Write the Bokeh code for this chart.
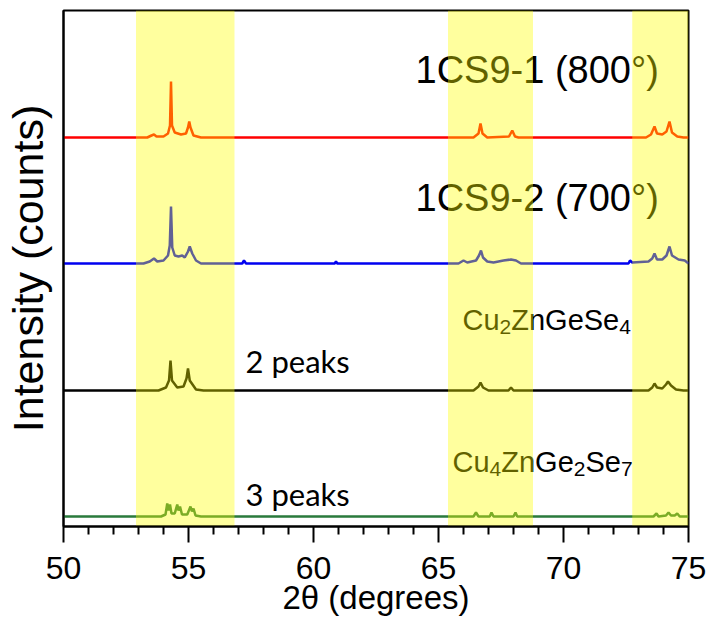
import numpy as np
from bokeh.plotting import figure
from bokeh.models import Range1d, FixedTicker, ColumnDataSource
from bokeh.core.properties import value
from bokeh.embed import file_html
from bokeh.resources import INLINE

# ---------------- data ----------------
X_TICKS = [50, 55, 60, 65, 70, 75]
X_MINOR = [51, 52, 53, 54, 56, 57, 58, 59, 61, 62, 63, 64, 66, 67, 68, 69, 71, 72, 73, 74]

BAND_LEFT = [52.9, 65.38, 72.75]
BAND_RIGHT = [56.84, 68.78, 75.0]

# 1CS9-1 (800°)
RED_X = [50, 53.35, 53.52, 53.62, 53.72, 54.0, 54.18, 54.26, 54.30, 54.34, 54.45, 54.7, 54.9, 54.98, 55.03,
         55.08, 55.2, 55.5, 66.4, 66.6, 66.68, 66.76, 66.95, 67.82, 67.95, 68.06, 68.2, 73.3, 73.5, 73.64,
         73.74, 73.95, 74.12, 74.24, 74.34, 74.55, 74.8, 75]
RED_Y = [0, 0, 2, 3, 1, 1, 4, 12, 56, 12, 5, 3, 4, 10, 16,
         10, 2, 0, 0, 4, 14, 4, 0, 1, 7, 1, 0, 0, 3, 11,
         4, 3, 6, 16, 5, 1, 0, 0]

# 1CS9-2 (700°)
BLUE_X = [50, 53.2, 53.45, 53.62, 53.75, 54.0, 54.18, 54.25, 54.30, 54.35, 54.45, 54.6, 54.75, 54.85, 54.98,
          55.05, 55.15, 55.3, 55.5, 57.15, 57.22, 57.3, 60.85, 60.9, 60.95, 65.8, 66.0, 66.15, 66.5, 66.62,
          66.7, 66.78, 66.95, 67.2, 67.6, 67.9, 68.1, 68.3, 72.6, 72.66, 72.75, 73.4, 73.55, 73.64, 73.74,
          73.95, 74.12, 74.24, 74.34, 74.6, 74.85, 74.95, 75]
BLUE_Y = [0, 0, 2, 5, 2, 3, 8, 18, 57, 16, 8, 7, 8, 6, 12,
          17, 10, 3, 0, 0, 3, 0, 0, 2, 0, 0, 3, 1, 3, 8,
          13, 6, 2, 1, 3, 4, 3, 0, 0, 3, 1, 2, 5, 10, 4,
          4, 8, 17, 8, 4, 3, 1, 0]

# Cu2ZnGeSe4
BLACK_X = [50, 53.8, 54.1, 54.22, 54.28, 54.34, 54.55, 54.8, 54.92, 54.98, 55.05, 55.3, 55.6, 66.4, 66.6,
           66.68, 66.78, 67.0, 67.8, 67.9, 68.0, 73.4, 73.55, 73.64, 73.74, 73.95, 74.1, 74.18, 74.3, 74.5,
           74.8, 75]
BLACK_Y = [0, 0, 3, 10, 30, 10, 3, 4, 12, 22, 10, 1, 0, 0, 4,
           8, 3, 0, 0, 3, 0, 0, 3, 7, 3, 2, 6, 9, 5, 1,
           0, 0]

# Cu4ZnGe2Se7
GREEN_X = [50, 53.9, 54.08, 54.15, 54.2, 54.26, 54.32, 54.45, 54.55, 54.6, 54.66, 54.74, 54.95, 55.08, 55.14,
           55.2, 55.28, 55.5, 66.4, 66.5, 66.6, 67.05, 67.12, 67.2, 68.0, 68.08, 68.15, 73.6, 73.72, 73.8,
           74.1, 74.2, 74.3, 74.45, 74.55, 74.65, 75]
GREEN_Y = [0, 0, 2, 13, 6, 12, 3, 3, 12, 6, 10, 2, 2, 10, 5,
           8, 1, 0, 0, 4, 0, 0, 4, 0, 0, 4, 0, 0, 3, 0,
           1, 4, 1, 1, 3, 0, 0]

OFFSETS = [389, 263, 136, 10]
COLORS = ["#FF0000", "#0000F0", "#000000", "#2A7A3C"]

SAMPLE_LABELS = ["1CS9-1 (800°)", "1CS9-2 (700°)"]
PEAK_LABELS = ["2 peaks", "3 peaks"]
# chemical formulas as (piece, is_subscript)
FORMULA_1 = [("Cu", False), ("2", True), ("ZnGeSe", False), ("4", True)]
FORMULA_2 = [("Cu", False), ("4", True), ("ZnGe", False), ("2", True), ("Se", False), ("7", True)]
X_TITLE = "2θ (degrees)"
Y_TITLE = "Intensity (counts)"

# ---------------- figure ----------------
p = figure(width=708, height=619, x_range=Range1d(50, 75), y_range=Range1d(0, 516),
           output_backend="svg", toolbar_location=None,
           min_border_left=63, min_border_right=20, min_border_top=10, min_border_bottom=93)
p.xgrid.visible = False
p.ygrid.visible = False
p.outline_line_color = "black"
p.outline_line_width = 2
p.outline_line_alpha = 1.0

traces = [(RED_X, RED_Y), (BLUE_X, BLUE_Y), (BLACK_X, BLACK_Y), (GREEN_X, GREEN_Y)]
for (xs, ys), off, col in zip(traces, OFFSETS, COLORS):
    p.line(xs, np.array(ys) + off, line_color=col, line_width=2.5)

# sample labels
p.text(x=[64.08, 64.08], y=[457, 329], text=SAMPLE_LABELS, text_font=value("Liberation Sans"),
       text_font_size="38px", text_baseline="middle", text_align="left", text_color="black")
# peak count labels
p.text(x=[57.28, 57.28], y=[166, 33], text=PEAK_LABELS, text_font=value("Lato"),
       text_font_size="31px", text_baseline="middle", text_align="left", text_color="black")

# formulas with real subscripts (pieces laid out with Arial/Liberation advance widths)
ADV = {"C": 722, "u": 556, "Z": 611, "n": 556, "G": 778, "e": 556, "S": 667,
       "2": 556, "4": 556, "7": 556}
F_MAIN, F_SUB, SUB_DROP = 29, 21, 7


def formula(pieces, x0, y_base):
    xs, ys, txt, offs, sizes = [], [], [], [], []
    cur = 0.0
    for s, sub in pieces:
        fs = F_SUB if sub else F_MAIN
        xs.append(x0)
        ys.append(y_base)
        txt.append(s)
        offs.append(cur)
        sizes.append(f"{fs}px")
        cur += sum(ADV[c] for c in s) * fs / 1000.0
    yoffs = [SUB_DROP if sub else 0 for _, sub in pieces]
    src = ColumnDataSource(dict(x=xs, y=ys, text=txt, xo=offs, yo=yoffs, fs=sizes))
    p.text(x="x", y="y", text="text", x_offset="xo", y_offset="yo", text_font_size="fs",
           source=src, text_font=value("Liberation Sans"), text_baseline="alphabetic",
           text_align="left", text_color="black")


formula(FORMULA_1, 65.96, 207)
formula(FORMULA_2, 65.56, 65)

# translucent yellow bands drawn on top
p.quad(left=BAND_LEFT, right=BAND_RIGHT, bottom=0, top=516,
       fill_color="#FFFF00", fill_alpha=0.38, line_color=None)

# x axis
p.xaxis.ticker = FixedTicker(ticks=X_TICKS, minor_ticks=X_MINOR)
p.xaxis.axis_label = X_TITLE
p.xaxis.axis_line_width = 2
p.xaxis.major_tick_line_width = 2
p.xaxis.minor_tick_line_width = 2
p.xaxis.major_tick_in = 0
p.xaxis.major_tick_out = 16
p.xaxis.minor_tick_in = 0
p.xaxis.minor_tick_out = 8
p.xaxis.major_label_standoff = 14
p.xaxis.major_label_text_font = "Liberation Sans"
p.xaxis.major_label_text_font_size = "32px"
p.xaxis.major_label_text_color = "black"
p.xaxis.axis_label_text_font = "Liberation Sans"
p.xaxis.axis_label_text_font_size = "33px"
p.xaxis.axis_label_text_font_style = "normal"
p.xaxis.axis_label_text_color = "black"
p.xaxis.axis_label_standoff = -3

# y axis: no ticks, only title
p.yaxis.ticker = FixedTicker(ticks=[])
p.yaxis.major_tick_out = 0
p.yaxis.major_tick_in = 0
p.yaxis.minor_tick_out = 0
p.yaxis.minor_tick_in = 0
p.yaxis.axis_line_width = 2
p.yaxis.axis_label = Y_TITLE
p.yaxis.axis_label_text_font = "Liberation Sans"
p.yaxis.axis_label_text_font_size = "43px"
p.yaxis.axis_label_text_font_style = "normal"
p.yaxis.axis_label_text_color = "black"
p.yaxis.axis_label_standoff = 12

open("out.html", "w").write(file_html(p, INLINE))
